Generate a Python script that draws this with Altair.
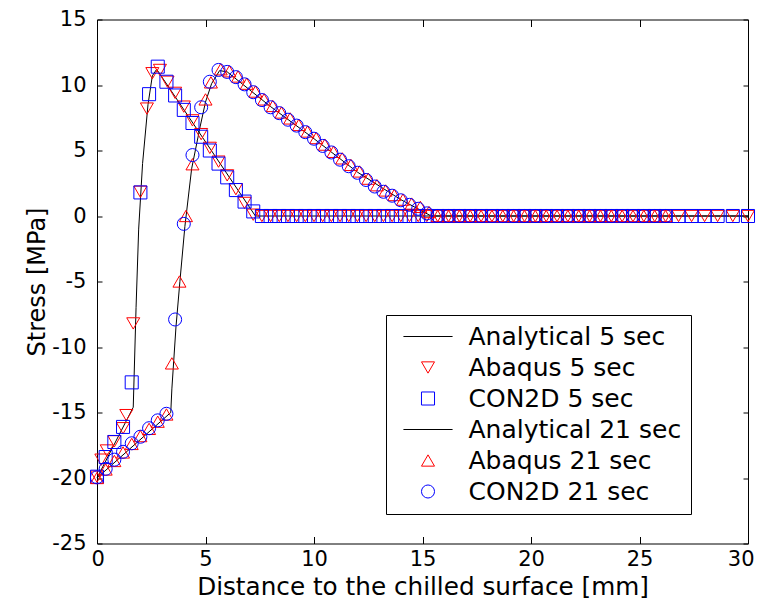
import altair as alt
import pandas as pd

# ---------------- data ----------------
# Analytical solutions (lines)
ana5_x = [0, 1.67, 1.8, 1.92, 2.1, 2.35, 2.55, 2.75, 7.3, 30]
ana5_y = [-20, -14.6, -7, -1, 4, 8.5, 10.7, 11.2, 0, 0]
ana21_x = [0, 3.4, 3.45, 3.64, 3.82, 4.05, 4.36, 4.75, 5.0, 5.28, 5.65, 6.0, 8.0, 10.0, 12.0, 14.0, 15.4, 30]
ana21_y = [-20, -15.0, -13.2, -8.45, -5.0, -0.8, 3.6, 6.8, 8.7, 10.1, 11.1, 11.0, 8.35, 5.9, 3.35, 1.25, 0, 0]

# flat (zero stress) node positions
flat5_x = [7.6, 8.0, 8.4, 8.8, 9.2, 9.6, 10.0, 10.4, 10.8, 11.2, 11.6, 12.0, 12.4, 12.8,
           13.2, 13.6, 14.0, 14.4, 14.8, 15.2, 15.7, 16.2, 16.7, 17.2, 17.7, 18.2, 18.7,
           19.2, 19.7, 20.2, 20.7, 21.2, 21.7, 22.2, 22.7, 23.2, 23.7, 24.2, 24.7, 25.2,
           25.7, 26.2, 26.8, 27.4, 28.0, 28.6, 29.3, 30.0]
flat5_y = [0, 0, 0, 0, 0, 0, 0, 0, 0, 0, 0, 0, 0, 0, 0, 0, 0, 0, 0, 0, 0, 0, 0, 0,
           0, 0, 0, 0, 0, 0, 0, 0, 0, 0, 0, 0, 0, 0, 0, 0, 0, 0, 0, 0, 0, 0, 0, 0]
flat21_x = [15.7, 16.2, 16.7, 17.2, 17.7, 18.2, 18.7, 19.2, 19.7, 20.2, 20.7, 21.2,
            21.7, 22.2, 22.7, 23.2, 23.7, 24.2, 24.7, 25.2, 25.7, 26.2]
flat21_y = [0, 0, 0, 0, 0, 0, 0, 0, 0, 0, 0, 0, 0, 0, 0, 0, 0, 0, 0, 0, 0, 0]

# Abaqus 5 sec (down triangles)
abq5_x = [0, 0.2, 0.45, 0.8, 1.2, 1.35, 1.67, 2.0, 2.3, 2.55, 2.9, 3.25, 3.6, 4.0,
          4.4, 4.8, 5.2, 5.6, 6.0, 6.4, 6.8, 7.2]
abq5_y = [-19.9, -18.6, -17.9, -17.2, -16.2, -15.2, -8.2, 1.85, 8.2, 10.9, 11.15, 10.25,
          9.4, 8.35, 7.3, 6.25, 5.2, 4.15, 3.1, 2.05, 1.0, 0.1]
# CON2D 5 sec (squares)
con5_x = [0, 0.4, 0.8, 1.2, 1.6, 2.0, 2.4, 2.8, 3.2, 3.6, 4.0, 4.4, 4.8, 5.2, 5.6,
          6.0, 6.4, 6.8, 7.2]
con5_y = [-19.9, -18.4, -17.25, -16.1, -12.7, 1.8, 9.3, 11.4, 10.25, 9.2, 8.1, 7.1,
          6.05, 5.0, 4.0, 2.95, 1.98, 1.1, 0.35]
# Abaqus 21 sec (up triangles)
abq21_x = [0, 0.4, 0.8, 1.2, 1.6, 2.0, 2.4, 2.8, 3.2, 3.45, 3.8, 4.1, 4.4, 5.0, 5.25,
           5.7, 6.1, 6.5, 6.9, 7.3, 7.7, 8.1, 8.5, 8.9, 9.3, 9.7, 10.1, 10.5, 10.9,
           11.3, 11.7, 12.1, 12.5, 12.9, 13.3, 13.7, 14.1, 14.5, 14.9, 15.3]
abq21_y = [-20.0, -19.35, -18.7, -18.05, -17.4, -16.8, -16.25, -15.7, -15.15, -11.25,
           -5.0, 0.0, 3.95, 8.9, 10.2, 11.2, 11.05, 10.65, 10.1, 9.5, 8.9, 8.4, 7.9,
           7.45, 6.95, 6.45, 5.95, 5.45, 4.9, 4.4, 3.9, 3.4, 2.85, 2.35, 1.95, 1.6,
           1.25, 0.95, 0.7, 0.3]
# CON2D 21 sec (circles)
con21_x = [0, 0.4, 0.8, 1.2, 1.6, 2.0, 2.4, 2.8, 3.2, 3.6, 4.0, 4.4, 4.8, 5.2, 5.6,
           6.0, 6.4, 6.8, 7.2, 7.6, 8.0, 8.4, 8.8, 9.2, 9.6, 10.0, 10.4, 10.8, 11.2,
           11.6, 12.0, 12.4, 12.8, 13.2, 13.6, 14.0, 14.4, 14.8, 15.2]
con21_y = [-19.95, -19.3, -18.6, -18.0, -17.35, -16.85, -16.2, -15.6, -15.1, -7.9,
           -0.6, 4.65, 8.3, 10.25, 11.15, 11.0, 10.6, 10.05, 9.45, 8.85, 8.3, 7.85,
           7.35, 6.9, 6.4, 5.9, 5.35, 4.85, 4.3, 3.8, 3.3, 2.75, 2.25, 1.85, 1.55,
           1.2, 0.85, 0.55, 0.2]

series_names = ["Analytical 5 sec", "Abaqus 5 sec", "CON2D 5 sec",
                "Analytical 21 sec", "Abaqus 21 sec", "CON2D 21 sec"]
series_colors = ["black", "#ff0000", "#0000ff", "black", "#ff0000", "#0000ff"]
line_sym = "M-3.77,0L3.77,0"
series_shapes = [line_sym, "triangle-down", "square", line_sym, "triangle-up", "circle"]

# ---------------- tables ----------------
lines_df = pd.concat([
    pd.DataFrame({"x": ana5_x, "y": ana5_y, "series": series_names[0]}),
    pd.DataFrame({"x": ana21_x, "y": ana21_y, "series": series_names[3]}),
])
pts_df = pd.concat([
    pd.DataFrame({"x": abq5_x + flat5_x, "y": abq5_y + flat5_y, "series": series_names[1]}),
    pd.DataFrame({"x": con5_x + flat5_x, "y": con5_y + flat5_y, "series": series_names[2]}),
    pd.DataFrame({"x": abq21_x + flat21_x, "y": abq21_y + flat21_y, "series": series_names[4]}),
    pd.DataFrame({"x": con21_x + flat21_x, "y": con21_y + flat21_y, "series": series_names[5]}),
])

FONT = "DejaVu Sans"
xs = alt.Scale(domain=[0, 30], nice=False, zero=False)
ys = alt.Scale(domain=[-25, 15], nice=False, zero=False)
xticks = [0, 5, 10, 15, 20, 25, 30]
yticks = [-25, -20, -15, -10, -5, 0, 5, 10, 15]

common_axis = dict(grid=False, domain=False, tickColor="black", tickWidth=1,
                   labelColor="black", labelFont=FONT, labelFontSize=21,
                   titleFont=FONT, titleFontWeight="normal",
                   titleColor="black", labelOverlap=False)

lines = alt.Chart(lines_df).mark_line(color="black", strokeWidth=1).encode(
    x=alt.X("x:Q", scale=xs, axis=alt.Axis(orient="bottom", values=xticks, offset=-7,
            tickSize=7, labelPadding=5, title="Distance to the chilled surface [mm]",
            titlePadding=5, titleFontSize=24.7, labelExpr="'' + datum.value",
            labelFlush=True, labelFlushOffset=6, **common_axis)),
    y=alt.Y("y:Q", scale=ys, axis=alt.Axis(orient="left", values=yticks, offset=-5,
            tickSize=5, labelPadding=11, title="Stress [MPa]", titlePadding=2,
            titleFontSize=24, labelExpr="'' + datum.value", labelFlush=False,
            **common_axis)),
    detail="series:N",
)

points = alt.Chart(pts_df).mark_point(filled=False, size=170, strokeWidth=1, opacity=1).encode(
    x=alt.X("x:Q", scale=xs, axis=alt.Axis(orient="top", values=xticks, offset=-7,
            tickSize=7, labels=False, title=None, **common_axis)),
    y=alt.Y("y:Q", scale=ys, axis=alt.Axis(orient="right", values=yticks, offset=-5,
            tickSize=5, labels=False, title=None, **common_axis)),
    color=alt.Color("series:N", scale=alt.Scale(domain=series_names, range=series_colors),
                    legend=alt.Legend(title=None, orient="none", legendX=289, legendY=295.5,
                                      labelFont=FONT, labelFontSize=25, labelColor="black",
                                      labelLimit=400, rowPadding=5, padding=9,
                                      symbolSize=170, symbolStrokeWidth=1,
                                      symbolOffset=20.5, labelOffset=28,
                                      strokeColor="black", fillColor="white",
                                      cornerRadius=0)),
    shape=alt.Shape("series:N", scale=alt.Scale(domain=series_names, range=series_shapes),
                    legend=alt.Legend(title=None)),
)

chart = alt.layer(lines, points).resolve_axis(x="independent", y="independent").properties(
    width=651, height=524,
    autosize=alt.AutoSizeParams(type="none"),
    padding={"left": 89, "top": 11.5, "right": 8, "bottom": 59},
    background="white",
).configure_view(stroke="black", strokeWidth=1)

chart.save("out.html", embed_options={"renderer": "svg", "actions": False})
